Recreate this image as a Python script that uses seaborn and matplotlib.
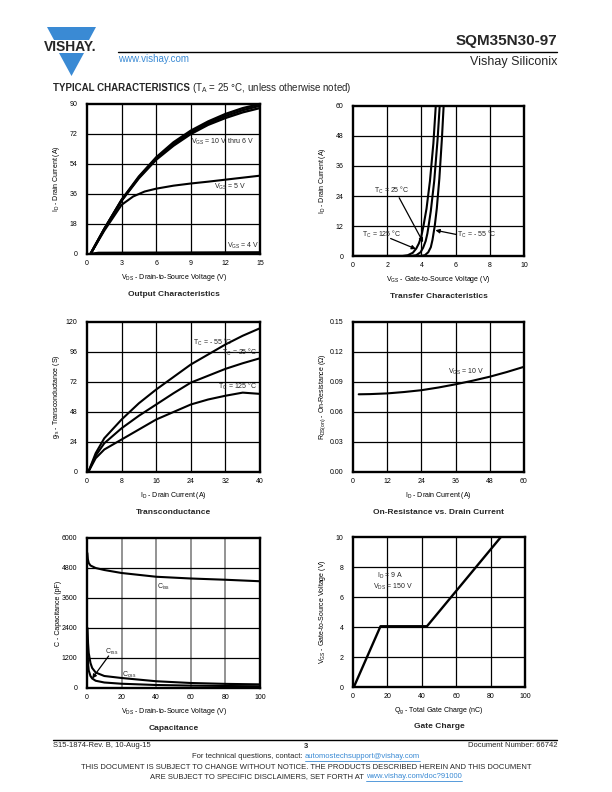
import matplotlib
matplotlib.use("Agg")
import matplotlib.pyplot as plt
import seaborn as sns
import pandas as pd
from matplotlib.patches import Polygon

# ---------------- data ----------------
# Output characteristics
out_vds = [0.3, 1.5, 3, 4.5, 6, 7.5, 9, 10.5, 12, 13.5, 15]
out_10v = [0, 15, 32.5, 46.5, 58, 67, 74, 79.5, 84, 87.5, 90]
out_8v = [0, 15, 32.3, 46, 57.3, 66, 73, 78.5, 82.8, 86.3, 89]
out_6v = [0, 15, 32, 45.5, 56.6, 65, 72, 77.5, 81.6, 85, 87.6]
out5_vds = [0.3, 1.5, 3, 4, 5, 6, 7.5, 9, 10.5, 12, 13.5, 15]
out_5v = [0, 14, 29.5, 34.5, 37.5, 39.2, 41, 42.3, 43.4, 44.6, 45.8, 47]
out4_vds = [0.3, 1, 15]
out_4v = [0, 0.6, 0.9]

# Transfer characteristics
tr_v_125 = [0, 2.9, 3.2, 3.5, 3.7, 3.85, 4.0, 4.12, 4.3, 4.5, 4.7, 4.84]
tr_i_125 = [0, 0, 0.3, 1.3, 3, 5, 8, 12, 19, 30, 45, 60]
tr_v_25 = [0, 3.4, 3.7, 3.95, 4.1, 4.25, 4.35, 4.42, 4.55, 4.75, 4.95, 5.07]
tr_i_25 = [0, 0, 0.3, 1.5, 3.3, 6, 9, 12, 18, 30, 47, 60]
tr_v_m55 = [0, 3.9, 4.2, 4.4, 4.55, 4.65, 4.72, 4.78, 4.9, 5.05, 5.2, 5.3]
tr_i_m55 = [0, 0, 0.3, 1.5, 3.5, 6.5, 9.5, 12, 19, 31, 47, 60]

# Transconductance
gfs_id = [0.3, 2, 4, 8, 12, 16, 20, 24, 28, 32, 36, 40]
gfs_m55 = [0, 15, 27, 42, 55, 66, 76, 86, 94, 102, 109, 115]
gfs_25 = [0, 13, 23, 35, 45, 54, 63, 71.5, 77, 82.5, 87, 91]
gfs_125 = [0, 11, 18, 26, 34, 42, 48, 54, 58, 61, 63.5, 62.5]

# On-resistance
rds_id = [2, 6, 12, 18, 24, 30, 36, 42, 48, 54, 60]
rds_val = [0.0777, 0.0779, 0.0786, 0.0800, 0.0818, 0.0845, 0.0877, 0.0913, 0.0953, 0.1000, 0.1052]

# Capacitance
ciss_v = [0.2, 0.5, 1, 2, 5, 10, 20, 40, 60, 80, 100]
ciss_c = [5400, 5150, 5000, 4900, 4800, 4720, 4600, 4450, 4380, 4330, 4270]
coss_v = [0.3, 0.6, 1, 2, 3, 5, 10, 20, 40, 60, 80, 100]
coss_c = [2400, 1800, 1400, 1000, 800, 620, 480, 400, 270, 200, 165, 145]
crss_v = [0.3, 0.6, 1, 2, 3, 5, 10, 20, 40, 60, 80, 100]
crss_c = [1600, 1000, 700, 480, 380, 290, 220, 170, 120, 95, 80, 70]

# Gate charge
qg_nc = [0.5, 16, 43, 86]
qg_vgs = [0, 4.05, 4.05, 10]

# ---------------- style ----------------
sns.set_theme(style="white")
plt.rcParams["font.family"] = ["Liberation Sans", "DejaVu Sans"]
plt.rcParams["mathtext.fontset"] = "custom"
plt.rcParams["mathtext.rm"] = "Liberation Sans"
plt.rcParams["mathtext.it"] = "Liberation Sans:italic"
plt.rcParams["mathtext.bf"] = "Liberation Sans:bold"

W, H = 612, 792
fig = plt.figure(figsize=(W / 100, H / 100), dpi=100)

BLUE = "#3a8ad4"
TICK_FS = 5
LAB_FS = 5
ANN_FS = 5
TITLE_FS = 6


def rect(l, t, r, b):
    return [l / W, 1 - b / H, (r - l) / W, (b - t) / H]


def setup(ax, xlim, ylim, xticks, yticks, xlab, ylab, title, px, vgrid_color="black"):
    l, t, r, b = px
    ax.set_xlim(*xlim)
    ax.set_ylim(*ylim)
    ax.set_xticks(xticks)
    ax.set_yticks(yticks)
    ax.tick_params(length=0, labelsize=TICK_FS, colors="black")
    ax.tick_params(axis="x", pad=4)
    ax.tick_params(axis="y", pad=7)
    for xv in xticks[1:-1]:
        ax.axvline(xv, color=vgrid_color, lw=0.9 if vgrid_color == "black" else 1.3, zorder=1)
    for yv in yticks[1:-1]:
        ax.axhline(yv, color="black", lw=0.9, zorder=1)
    for s in ax.spines.values():
        s.set_linewidth(1.7)
        s.set_color("black")
        s.set_visible(True)
    ax.set_xlabel(xlab, fontsize=LAB_FS, color="black")
    ax.set_ylabel(ylab, fontsize=LAB_FS, color="black")
    ax.xaxis.set_label_coords(0.5, -(272 - 254) / 150)
    ax.yaxis.set_label_coords(-25 / (r - l), 0.5)
    fig.text(((l + r) / 2) / W, 1 - (b + 40) / H, title, fontsize=TITLE_FS,
             fontweight="bold", ha="center", va="center")
    ax.set_facecolor("white")


def line(ax, x, y, lw=1.5):
    df = pd.DataFrame({"x": x, "y": y})
    sns.lineplot(data=df, x="x", y="y", ax=ax, color="black", lw=lw,
                 estimator=None, sort=False, zorder=3)
    ax.set_xlabel("")
    ax.set_ylabel("")


def sub(s):
    return r"$\mathregular{_{" + s + "}}$"


# ---- 1 Output characteristics
p1 = (87, 104, 260, 254)
ax1 = fig.add_axes(rect(*p1))
line(ax1, out_vds, out_10v, lw=1.7)
line(ax1, out_vds, out_8v, lw=1.7)
line(ax1, out_vds, out_6v, lw=1.7)
line(ax1, out5_vds, out_5v)
line(ax1, out4_vds, out_4v, lw=1.9)
setup(ax1, (0, 15), (0, 90), [0, 3, 6, 9, 12, 15], [0, 18, 36, 54, 72, 90],
      "V" + sub("DS") + " - Drain-to-Source Voltage (V)", "I" + sub("D") + " - Drain Current (A)",
      "Output Characteristics", p1)
ax1.text(9.0, 67.5, "V" + sub("GS") + " = 10 V thru 6 V", fontsize=ANN_FS, va="center")
ax1.text(11.0, 40.5, "V" + sub("GS") + " = 5 V", fontsize=ANN_FS, va="center")
ax1.text(12.1, 4.6, "V" + sub("GS") + " = 4 V", fontsize=ANN_FS, va="center")

# ---- 2 Transfer characteristics
p2 = (353, 106, 524, 256)
ax2 = fig.add_axes(rect(*p2))
line(ax2, tr_v_125, tr_i_125)
line(ax2, tr_v_25, tr_i_25)
line(ax2, tr_v_m55, tr_i_m55)
setup(ax2, (0, 10), (0, 60), [0, 2, 4, 6, 8, 10], [0, 12, 24, 36, 48, 60],
      "V" + sub("GS") + " - Gate-to-Source Voltage (V)", "I" + sub("D") + " - Drain Current (A)",
      "Transfer Characteristics", p2)
arr = dict(arrowstyle="-|>", color="black", lw=0.9, mutation_scale=6, shrinkA=0, shrinkB=0)
ax2.text(1.2, 26.3, "T" + sub("C") + " = 25 °C", fontsize=ANN_FS, va="center")
ax2.annotate("", xy=(4.1, 5.5), xytext=(2.7, 23.3), arrowprops=arr)
ax2.text(0.5, 8.8, "T" + sub("C") + " = 125 °C", fontsize=ANN_FS, va="center")
ax2.annotate("", xy=(3.68, 2.8), xytext=(2.2, 7.0), arrowprops=arr)
ax2.text(6.1, 8.5, "T" + sub("C") + " = - 55 °C", fontsize=ANN_FS, va="center")
ax2.annotate("", xy=(4.82, 10.3), xytext=(6.05, 8.6), arrowprops=arr)

# ---- 3 Transconductance
p3 = (87, 322, 260, 472)
ax3 = fig.add_axes(rect(*p3))
line(ax3, gfs_id, gfs_m55)
line(ax3, gfs_id, gfs_25)
line(ax3, gfs_id, gfs_125)
setup(ax3, (0, 40), (0, 120), [0, 8, 16, 24, 32, 40], [0, 24, 48, 72, 96, 120],
      "I" + sub("D") + " - Drain Current (A)", "g" + sub("fs") + " - Transconductance (S)",
      "Transconductance", p3)
ax3.text(24.5, 104, "T" + sub("C") + " = - 55 °C", fontsize=ANN_FS, va="center")
ax3.text(31.2, 95.5, "T" + sub("C") + " = 25 °C", fontsize=ANN_FS, va="center")
ax3.text(30.2, 68.5, "T" + sub("C") + " = 125 °C", fontsize=ANN_FS, va="center")

# ---- 4 On-resistance
p4 = (353, 322, 524, 472)
ax4 = fig.add_axes(rect(*p4))
line(ax4, rds_id, rds_val)
setup(ax4, (0, 60), (0, 0.15), [0, 12, 24, 36, 48, 60], [0, 0.03, 0.06, 0.09, 0.12, 0.15],
      "I" + sub("D") + " - Drain Current (A)", "R" + sub("DS(on)") + " - On-Resistance (Ω)",
      "On-Resistance vs. Drain Current", p4)
ax4.set_yticklabels(["0.00", "0.03", "0.06", "0.09", "0.12", "0.15"])
ax4.text(33.3, 0.1, "V" + sub("GS") + " = 10 V", fontsize=ANN_FS, va="center")

# ---- 5 Capacitance
p5 = (87, 538, 260, 688)
ax5 = fig.add_axes(rect(*p5))
line(ax5, ciss_v, ciss_c)
line(ax5, coss_v, coss_c)
line(ax5, crss_v, crss_c)
setup(ax5, (0, 100), (0, 6000), [0, 20, 40, 60, 80, 100], [0, 1200, 2400, 3600, 4800, 6000],
      "V" + sub("DS") + " - Drain-to-Source Voltage (V)", "C - Capacitance (pF)",
      "Capacitance", p5, vgrid_color="#8a8a8a")
ax5.text(40.5, 4050, "C" + sub("iss"), fontsize=ANN_FS, va="center")
ax5.text(20.5, 520, "C" + sub("oss"), fontsize=ANN_FS, va="center")
ax5.text(10.5, 1450, "C" + sub("rss"), fontsize=ANN_FS, va="center")
ax5.annotate("", xy=(3.0, 380), xytext=(12.5, 1280), arrowprops=arr)

# ---- 6 Gate charge
p6 = (353, 537, 525, 687)
ax6 = fig.add_axes(rect(*p6))
line(ax6, qg_nc, qg_vgs, lw=1.7)
setup(ax6, (0, 100), (0, 10), [0, 20, 40, 60, 80, 100], [0, 2, 4, 6, 8, 10],
      "Q" + sub("g") + " - Total Gate Charge (nC)", "V" + sub("GS") + " - Gate-to-Source Voltage (V)",
      "Gate Charge", p6)
ax6.text(13.8, 7.4, "I" + sub("D") + " = 9 A", fontsize=ANN_FS, va="center")
ax6.text(11.8, 6.67, "V" + sub("DS") + " = 150 V", fontsize=ANN_FS, va="center")

# ---------------- header / footer ----------------
bg = fig.add_axes([0, 0, 1, 1], zorder=-5)
bg.set_xlim(0, W)
bg.set_ylim(H, 0)
bg.axis("off")

# logo
bg.add_patch(Polygon([(47, 27), (96, 27), (89, 40), (54, 40)], closed=True, color=BLUE, lw=0))
bg.add_patch(Polygon([(59, 53), (84, 53), (71.5, 76)], closed=True, color=BLUE, lw=0))
bg.text(70.5, 47, "VISHAY.", fontsize=10, fontweight="bold", ha="center", va="center")

bg.plot([118, 557], [52, 52], color="black", lw=1.0)
bg.text(557, 41, "SQM35N30-97", fontsize=11, fontweight="bold", ha="right", va="center")
bg.text(557, 62, "Vishay Siliconix", fontsize=9, ha="right", va="center")
bg.text(118, 59, "www.vishay.com", fontsize=7, ha="left", va="center", color=BLUE)

renderer = fig.canvas.get_renderer()
t1 = bg.text(53, 88, "TYPICAL CHARACTERISTICS", fontsize=7, fontweight="bold", ha="left", va="center")
w1 = t1.get_window_extent(renderer).width
bg.text(53 + w1 + 2, 88, "(T" + sub("A") + " = 25 °C, unless otherwise noted)", fontsize=7,
        ha="left", va="center")

# footer
bg.plot([53, 557], [740, 740], color="black", lw=1.0)
FS_F = 5.5
bg.text(53, 745.5, "S15-1874-Rev. B, 10-Aug-15", fontsize=FS_F, ha="left", va="center")
bg.text(306, 746.5, "3", fontsize=FS_F, fontweight="bold", ha="center", va="center")
bg.text(557, 745.5, "Document Number: 66742", fontsize=FS_F, ha="right", va="center")

s1 = "For technical questions, contact: "
s2 = "automostechsupport@vishay.com"
ta = bg.text(0, 756.5, s1, fontsize=FS_F, ha="left", va="center")
tb = bg.text(0, 756.5, s2, fontsize=FS_F, ha="left", va="center", color=BLUE)
wa = ta.get_window_extent(renderer).width
wb = tb.get_window_extent(renderer).width
x0 = 306 - (wa + wb) / 2
ta.set_x(x0)
tb.set_x(x0 + wa)
bg.plot([x0 + wa, x0 + wa + wb], [760.5, 760.5], color=BLUE, lw=0.6)

bg.text(306, 767.5, "THIS DOCUMENT IS SUBJECT TO CHANGE WITHOUT NOTICE. THE PRODUCTS DESCRIBED HEREIN AND THIS DOCUMENT",
        fontsize=FS_F, ha="center", va="center")
s3 = "ARE SUBJECT TO SPECIFIC DISCLAIMERS, SET FORTH AT "
s4 = "www.vishay.com/doc?91000"
tc = bg.text(0, 776.5, s3, fontsize=FS_F, ha="left", va="center")
td = bg.text(0, 776.5, s4, fontsize=FS_F, ha="left", va="center", color=BLUE)
wc = tc.get_window_extent(renderer).width
wd = td.get_window_extent(renderer).width
x1 = 306 - (wc + wd) / 2
tc.set_x(x1)
td.set_x(x1 + wc)
bg.plot([x1 + wc, x1 + wc + wd], [780.5, 780.5], color=BLUE, lw=0.6)

fig.savefig("out.png", dpi=100)
